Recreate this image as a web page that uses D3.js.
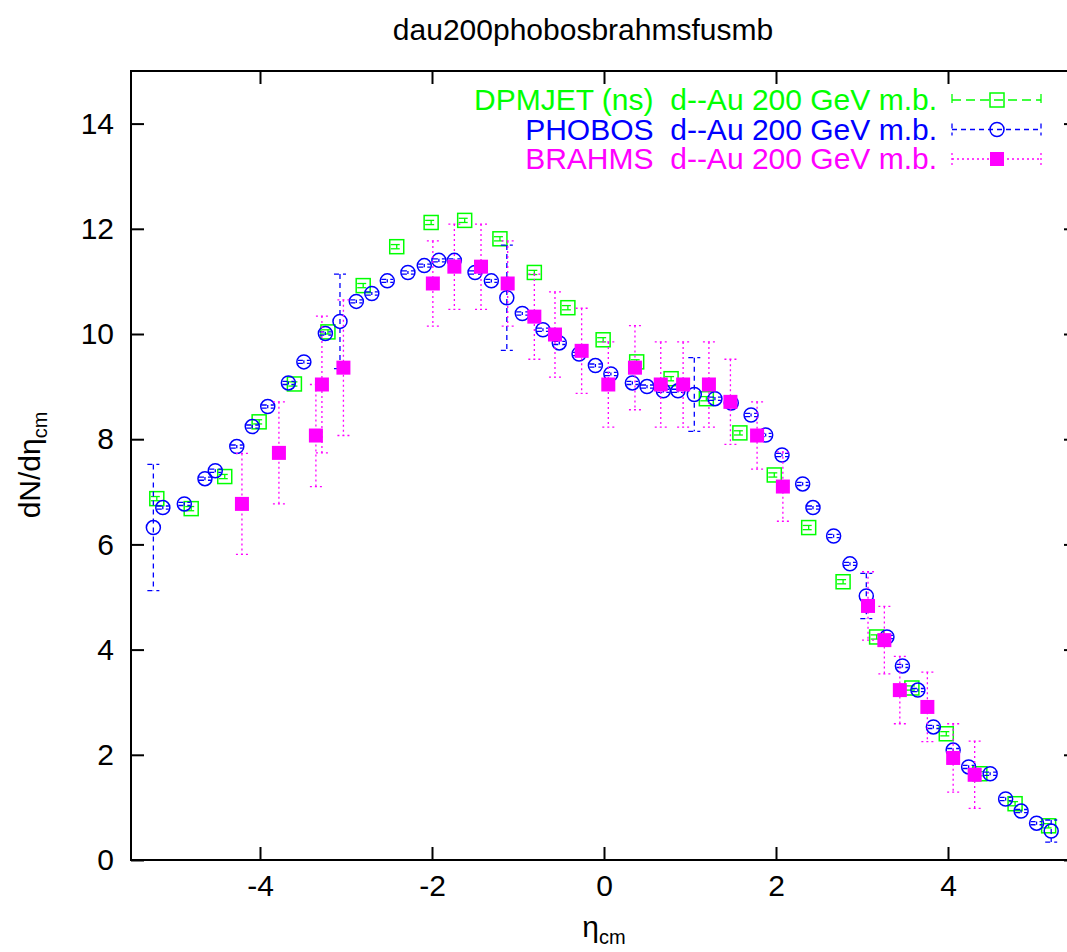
<!DOCTYPE html>
<html lang="en">
<head>
  <meta charset="UTF-8">
  <title>dau200phobosbrahmsfusmb</title>
  <style>
    body { margin: 0; background: #fff; }
    text { font-family: "Liberation Sans", Arial, sans-serif; }
  </style>
</head>
<body>
  <svg width=1067 height=952 id="viz"></svg>

  <script src="https://cdn.jsdelivr.net/npm/d3@7"></script>
  <script>
/* global d3 */

// DPMJET (ns) d-Au 200 GeV m.b.
let dpmEta = [-5.20, -4.80, -4.41, -4.01, -3.60, -3.21, -2.80, -2.41, -2.01, -1.62, -1.21, -0.81, -0.42, -0.01,
  0.38, 0.78, 1.19, 1.58, 1.98, 2.38, 2.78, 3.17, 3.58, 3.98, 4.37, 4.78, 5.17];
let dpmVal = [6.87, 6.68, 7.29, 8.33, 9.05, 10.04, 10.92, 11.66, 12.12, 12.16, 11.81, 11.17, 10.50, 9.89,
  9.47, 9.15, 8.77, 8.12, 7.32, 6.32, 5.29, 4.24, 3.27, 2.40, 1.64, 1.07, 0.65];
let dpmErr = [0.04, 0.04, 0.04, 0.04, 0.04, 0.04, 0.04, 0.04, 0.04, 0.04, 0.04, 0.04, 0.04, 0.04,
  0.04, 0.04, 0.04, 0.04, 0.04, 0.04, 0.04, 0.04, 0.04, 0.04, 0.04, 0.04, 0.04];

// PHOBOS d-Au 200 GeV m.b.
let phoEta = [-5.24, -5.13, -4.88, -4.64, -4.52, -4.27, -4.09, -3.91, -3.67, -3.49, -3.24, -3.07, -2.88, -2.70,
  -2.52, -2.28, -2.09, -1.92, -1.74, -1.50, -1.31, -1.13, -0.95, -0.71, -0.52, -0.29, -0.10, 0.08,
  0.33, 0.50, 0.69, 0.86, 1.05, 1.29, 1.48, 1.71, 1.88, 2.07, 2.31, 2.43, 2.67, 2.86,
  3.05, 3.29, 3.47, 3.65, 3.83, 4.06, 4.24, 4.49, 4.67, 4.85, 5.03, 5.20];
let phoVal = [6.32, 6.70, 6.77, 7.25, 7.40, 7.86, 8.24, 8.62, 9.07, 9.47, 10.01, 10.24, 10.62, 10.77,
  11.01, 11.17, 11.30, 11.40, 11.40, 11.17, 11.01, 10.69, 10.39, 10.08, 9.83, 9.62, 9.40, 9.24,
  9.07, 9.00, 8.92, 8.92, 8.85, 8.77, 8.69, 8.46, 8.08, 7.70, 7.15, 6.70, 6.16, 5.63,
  5.02, 4.24, 3.69, 3.23, 2.53, 2.09, 1.77, 1.64, 1.16, 0.93, 0.70, 0.55];
let phoErr = [1.20, 0.03, 0.03, 0.03, 0.03, 0.03, 0.03, 0.03, 0.03, 0.03, 0.03, 0.90, 0.03, 0.03,
  0.03, 0.03, 0.03, 0.03, 0.03, 0.03, 0.03, 1.00, 0.03, 0.03, 0.03, 0.03, 0.03, 0.03,
  0.03, 0.03, 0.03, 0.03, 0.70, 0.03, 0.03, 0.03, 0.03, 0.03, 0.03, 0.03, 0.03, 0.03,
  0.43, 0.03, 0.03, 0.03, 0.03, 0.03, 0.03, 0.03, 0.03, 0.03, 0.03, 0.21];

// BRAHMS d-Au 200 GeV m.b.
let braEta = [-4.21, -3.78, -3.35, -3.28, -3.03, -1.99, -1.74, -1.43, -1.12, -0.81, -0.57, -0.26, 0.05,
  0.36, 0.66, 0.92, 1.22, 1.47, 1.78, 2.08, 3.07, 3.26, 3.44, 3.76, 4.06, 4.31];
let braVal = [6.77, 7.74, 8.07, 9.04, 9.36, 10.96, 11.28, 11.28, 10.96, 10.33, 9.99, 9.68, 9.04,
  9.36, 9.04, 9.04, 9.04, 8.71, 8.07, 7.10, 4.83, 4.18, 3.23, 2.91, 1.94, 1.62];
let braErr = [0.96, 0.97, 0.97, 1.30, 1.29, 0.81, 0.81, 0.81, 0.81, 0.81, 0.81, 0.81, 0.81,
  0.80, 0.81, 0.81, 0.81, 0.81, 0.64, 0.66, 0.65, 0.64, 0.64, 0.66, 0.65, 0.64];

let xTicks = [-4, -2, 0, 2, 4];
let yTicks = [0, 2, 4, 6, 8, 10, 12, 14];
let legendLabels = ["DPMJET (ns)  d--Au 200 GeV m.b.", "PHOBOS  d--Au 200 GeV m.b.", "BRAHMS  d--Au 200 GeV m.b."];

let svg = d3.select("#viz"),
  margin = {top: 71, right: -10, bottom: 92, left: 131},
  width = +svg.attr("width") - margin.left - margin.right,
  height = +svg.attr("height") - margin.top - margin.bottom;

svg.append("rect").attr("width", 1067).attr("height", 952).attr("fill", "#fff");

let g = svg.append("g").attr("transform", "translate(" + margin.left + "," + margin.top + ")");

let x = d3.scaleLinear().domain([-5.5, 5.5]).range([0, width]);
let y = d3.scaleLinear().domain([0, 15]).range([height, 0]);

// axes, ticks pointing in, on all four sides
let tick = 13;
let plain = d => String(d);   // gnuplot uses a plain hyphen for minus
g.append("g")
  .attr("transform", "translate(0," + height + ")")
  .call(d3.axisBottom(x).tickValues(xTicks).tickSizeInner(-tick).tickSizeOuter(0).tickPadding(15).tickFormat(plain));
g.append("g")
  .call(d3.axisTop(x).tickValues(xTicks).tickSizeInner(-tick).tickSizeOuter(0).tickFormat(""));
g.append("g")
  .call(d3.axisLeft(y).tickValues(yTicks).tickSizeInner(-tick).tickSizeOuter(0).tickPadding(17).tickFormat(plain));
g.append("g")
  .attr("transform", "translate(" + width + ",0)")
  .call(d3.axisRight(y).tickValues(yTicks).tickSizeInner(-tick).tickSizeOuter(0).tickFormat(""));

g.selectAll(".domain").remove();
g.selectAll(".tick line").attr("stroke", "#000").attr("stroke-width", 2);
g.selectAll(".tick text").attr("font-size", 30).attr("fill", "#000")
  .style("font-family", "'Liberation Sans', Arial, sans-serif");

g.append("rect")
  .attr("width", width).attr("height", height)
  .attr("fill", "none").attr("stroke", "#000").attr("stroke-width", 2);

// series
let series = [
  {eta: dpmEta, val: dpmVal, err: dpmErr, color: "#00ff00", dash: "9,5", shape: "openSquare"},
  {eta: phoEta, val: phoVal, err: phoErr, color: "#0000ff", dash: "5,4", shape: "circle"},
  {eta: braEta, val: braVal, err: braErr, color: "#ff00ff", dash: "2,3", shape: "fillSquare"}
];

let cap = 6;

function drawMark(sel, s) {
  if (s.shape === "circle") {
    sel.append("circle").attr("r", 7).attr("fill", "none").attr("stroke", s.color).attr("stroke-width", 1.5);
  } else if (s.shape === "openSquare") {
    sel.append("rect").attr("x", -7).attr("y", -7).attr("width", 14).attr("height", 14)
      .attr("fill", "none").attr("stroke", s.color).attr("stroke-width", 1.5);
  } else {
    sel.append("rect").attr("x", -7).attr("y", -7).attr("width", 14).attr("height", 14)
      .attr("fill", s.color);
  }
}

series.forEach(s => {
  let data = s.eta.map((e, i) => ({eta: e, val: s.val[i], err: s.err[i]}));
  let sg = g.append("g");

  let bars = sg.selectAll(".bar").data(data).enter().append("g").attr("class", "bar")
    .attr("stroke", s.color).attr("stroke-width", 1.3).attr("stroke-dasharray", s.dash);
  bars.append("line")
    .attr("x1", d => x(d.eta)).attr("x2", d => x(d.eta))
    .attr("y1", d => y(d.val + d.err)).attr("y2", d => y(d.val - d.err));
  bars.append("line")
    .attr("x1", d => x(d.eta) - cap).attr("x2", d => x(d.eta) + cap)
    .attr("y1", d => y(d.val + d.err)).attr("y2", d => y(d.val + d.err));
  bars.append("line")
    .attr("x1", d => x(d.eta) - cap).attr("x2", d => x(d.eta) + cap)
    .attr("y1", d => y(d.val - d.err)).attr("y2", d => y(d.val - d.err));

  let pts = sg.selectAll(".pt").data(data).enter().append("g").attr("class", "pt")
    .attr("transform", d => "translate(" + x(d.eta) + "," + y(d.val) + ")");
  drawMark(pts, s);
});

// legend
let leg = svg.append("g");
series.forEach((s, i) => {
  let ly = 100 + i * 29.5;
  leg.append("text")
    .attr("x", 937).attr("y", ly + 10)
    .attr("text-anchor", "end")
    .attr("font-size", 30)
    .attr("fill", s.color)
    .style("white-space", "pre")
    .attr("xml:space", "preserve")
    .text(legendLabels[i]);
  let lg = leg.append("g").attr("stroke", s.color).attr("stroke-width", 1.3);
  lg.append("line").attr("x1", 952).attr("x2", 1041).attr("y1", ly).attr("y2", ly).attr("stroke-dasharray", s.dash);
  lg.append("line").attr("x1", 952).attr("x2", 952).attr("y1", ly - 6).attr("y2", ly + 6).attr("stroke-dasharray", s.dash);
  lg.append("line").attr("x1", 1041).attr("x2", 1041).attr("y1", ly - 6).attr("y2", ly + 6).attr("stroke-dasharray", s.dash);
  drawMark(leg.append("g").attr("transform", "translate(997," + ly + ")"), s);
});

// title and axis labels
svg.append("text")
  .attr("x", 583).attr("y", 40)
  .attr("text-anchor", "middle").attr("font-size", 30)
  .text("dau200phobosbrahmsfusmb");

let xl = svg.append("text")
  .attr("x", 604).attr("y", 937)
  .attr("text-anchor", "middle").attr("font-size", 30);
xl.append("tspan").text("\u03b7");
xl.append("tspan").attr("font-size", 20).attr("dy", 7).text("cm");

let yl = svg.append("text")
  .attr("transform", "translate(40,465) rotate(-90)")
  .attr("text-anchor", "middle").attr("font-size", 30);
yl.append("tspan").text("dN/d\u03b7");
yl.append("tspan").attr("font-size", 20).attr("dy", 7).text("cm");
  </script>
</body>
</html>
